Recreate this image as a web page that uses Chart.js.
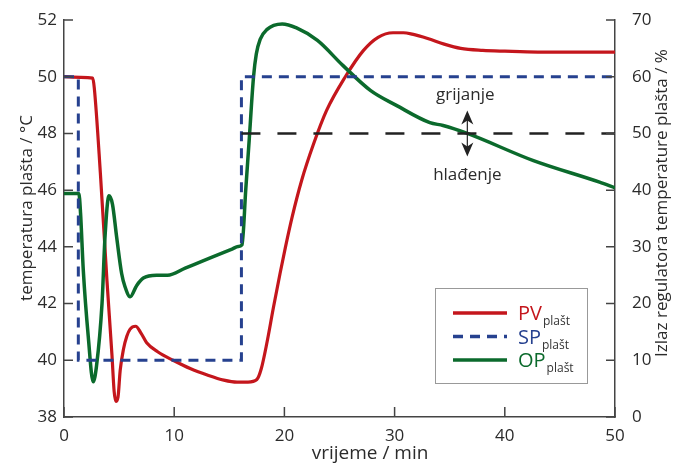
<!DOCTYPE html>
<html>
<head>
<meta charset="utf-8">
<script src="https://cdn.jsdelivr.net/npm/chart.js@4"></script>
<style>
  html, body { margin: 0; padding: 0; background: #fff; }
  #wrap { width: 680px; height: 466px; }
</style>
</head>
<body>
<div id="wrap"><canvas id="plast" width="680" height="466"></canvas></div>
<script>
// PV - temperatura plašta (°C, lijeva os)
const pvX = [0, 1.5, 2.6, 2.75, 3.3, 3.9, 4.35, 4.55, 4.7, 4.9, 5.1, 5.4, 5.7, 6.0, 6.5, 7.0, 7.5, 8.5, 9.9, 11.5, 13.0, 14.5, 15.7, 16.7, 17.5, 17.9, 18.4, 19.0, 19.6, 20.1, 20.7, 21.57, 22.62, 23.83, 25.5, 27.16, 28.5, 29.86, 30.8, 31.6, 33.0, 34.5, 36.0, 38.0, 40.0, 43.0, 46.0, 50.0];
const pvY = [50.0, 49.98, 49.95, 49.6, 46.6, 42.8, 40.2, 38.9, 38.55, 38.7, 39.65, 40.4, 40.85, 41.1, 41.2, 40.95, 40.62, 40.3, 40.0, 39.7, 39.48, 39.3, 39.23, 39.23, 39.32, 39.7, 40.59, 41.85, 43.05, 44.0, 45.05, 46.35, 47.6, 48.81, 49.98, 50.92, 51.39, 51.55, 51.55, 51.5, 51.35, 51.15, 51.0, 50.93, 50.9, 50.87, 50.87, 50.87];

// SP - zadana vrijednost (°C)
const spX = [0, 1.3, 1.3, 16.1, 16.1, 50];
const spY = [50, 50, 40, 40, 50, 50];

// OP - izlaz regulatora (%, desna os)
const opX = [0, 1.35, 1.5, 1.75, 2.2, 2.65, 2.95, 3.45, 3.72, 4.08, 4.4, 4.78, 5.23, 5.53, 6.0, 6.6, 7.2, 8.4, 9.4, 11.0, 12.5, 14.0, 15.3, 15.8, 16.15, 16.5, 16.8, 17.2, 17.45, 17.8, 18.4, 19.8, 21.1, 23.0, 25.3, 27.8, 30.2, 33.2, 34.4, 36.6, 42.6, 48.6, 50.0];
const opY = [39.4, 39.4, 36, 25.9, 14.2, 6.2, 9, 20, 31.7, 39.0, 37.5, 31.7, 25.3, 23.0, 21.2, 23.2, 24.5, 25.0, 25.0, 26.26, 27.45, 28.63, 29.66, 30.06, 30.33, 40.3, 48.7, 60, 64, 66.6, 68.3, 69.3, 68.6, 66.4, 62.0, 57.6, 54.9, 51.9, 51.4, 50.0, 45.2, 41.4, 40.4];

// granica grijanje / hlađenje (%)
const refX = [16.1, 50];
const refY = [50, 50];

const xTicks = [0, 10, 20, 30, 40, 50];
const tempTicks = [38, 40, 42, 44, 46, 48, 50, 52];
const opTicks = [0, 10, 20, 30, 40, 50, 60, 70];

const seriesNames = ['PV', 'SP', 'OP'];
const seriesSub = 'plašt';
const labelsXY = ['vrijeme / min', 'temperatura plašta / °C', 'Izlaz regulatora temperature plašta / %'];
const zoneLabels = ['grijanje', 'hlađenje'];

const RED = '#c4161c', BLUE = '#26418f', GREEN = '#0b6a2c', DARK = '#2b2b2b', AXIS = '#444';
const FONT = '"Open Sans", Lato, sans-serif';

function toPts(xs, ys) {
    return xs.map((x, i) => ({ x: x, y: ys[i] }));
}

// keep the tick padding from pushing the plot area down
function fixVert(width) {
    return s => { s.width = width; s.paddingTop = 10; s.paddingBottom = 10; };
}

const decor = {
    id: 'decor',
    afterDraw(chart) {
        const ctx = chart.ctx;
        const area = chart.chartArea;
        const sx = chart.scales.x, sy = chart.scales.y, sy2 = chart.scales.y2;
        ctx.save();

        // inward ticks
        ctx.strokeStyle = AXIS;
        ctx.lineWidth = 1.5;
        ctx.beginPath();
        xTicks.forEach(v => {
            const p = sx.getPixelForValue(v);
            ctx.moveTo(p, area.bottom); ctx.lineTo(p, area.bottom - 10);
        });
        tempTicks.forEach(v => {
            const p = sy.getPixelForValue(v);
            ctx.moveTo(area.left, p); ctx.lineTo(area.left + 9, p);
        });
        opTicks.forEach(v => {
            const p = sy2.getPixelForValue(v);
            ctx.moveTo(area.right, p); ctx.lineTo(area.right - 9, p);
        });
        ctx.stroke();

        // axis titles
        ctx.fillStyle = DARK;
        ctx.textAlign = 'center';
        ctx.textBaseline = 'middle';
        ctx.font = '19px ' + FONT;
        ctx.fillText(labelsXY[0], 370, 454);
        ctx.font = '17px ' + FONT;
        ctx.save();
        ctx.translate(27, 208);
        ctx.rotate(-Math.PI / 2);
        ctx.fillText(labelsXY[1], 0, 0);
        ctx.restore();
        ctx.save();
        ctx.translate(662, 203);
        ctx.rotate(-Math.PI / 2);
        ctx.fillText(labelsXY[2], 0, 0);
        ctx.restore();

        // grijanje / hlađenje with double arrow
        const ax = sx.getPixelForValue(36.6);
        const ay = sy2.getPixelForValue(50);
        ctx.fillText(zoneLabels[0], ax - 2, ay - 38);
        ctx.fillText(zoneLabels[1], ax, ay + 42);
        ctx.strokeStyle = '#222';
        ctx.lineWidth = 1.2;
        ctx.beginPath();
        ctx.moveTo(ax, ay - 20); ctx.lineTo(ax, ay + 20);
        ctx.stroke();
        ctx.fillStyle = '#222';
        [[-1, ay - 23], [1, ay + 23]].forEach(([d, tip]) => {
            ctx.beginPath();
            ctx.moveTo(ax, tip);
            ctx.lineTo(ax + 6, tip - d * 14);
            ctx.lineTo(ax, tip - d * 10);
            ctx.lineTo(ax - 6, tip - d * 14);
            ctx.closePath();
            ctx.fill();
        });

        // legend box
        const bx = area.right - 180, by = area.bottom - 129;
        ctx.strokeStyle = '#999';
        ctx.lineWidth = 1;
        ctx.strokeRect(bx + 0.5, by + 0.5, 152, 95);
        const cols = [RED, BLUE, GREEN];
        seriesNames.forEach((name, i) => {
            const ly = by + 25 + i * 23.5;
            ctx.strokeStyle = cols[i];
            ctx.lineWidth = 3.5;
            ctx.setLineDash(i === 1 ? [10, 7] : []);
            ctx.beginPath();
            ctx.moveTo(bx + 18, ly); ctx.lineTo(bx + 72, ly);
            ctx.stroke();
            ctx.setLineDash([]);
            ctx.fillStyle = cols[i];
            ctx.textAlign = 'left';
            ctx.textBaseline = 'alphabetic';
            ctx.font = '20px ' + FONT;
            ctx.fillText(name, bx + 83, ly + 7);
            const w = ctx.measureText(name).width;
            ctx.fillStyle = '#333';
            ctx.font = '12px ' + FONT;
            ctx.fillText(seriesSub, bx + 84 + w, ly + 12);
        });
        ctx.restore();
    }
};

const config = {
    type: 'line',
    data: {
        datasets: [
            { label: 'ref', data: toPts(refX, refY), yAxisID: 'y2', borderColor: '#222', borderWidth: 2.5, borderDash: [19, 17], pointRadius: 0, tension: 0 },
            { label: 'SP', data: toPts(spX, spY), yAxisID: 'y', borderColor: BLUE, borderWidth: 3, borderDash: [10, 7], pointRadius: 0, tension: 0 },
            { label: 'OP', data: toPts(opX, opY), yAxisID: 'y2', borderColor: GREEN, borderWidth: 3.5, pointRadius: 0, cubicInterpolationMode: 'monotone' },
            { label: 'PV', data: toPts(pvX, pvY), yAxisID: 'y', borderColor: RED, borderWidth: 3.2, pointRadius: 0, cubicInterpolationMode: 'monotone' }
        ]
    },
    options: {
        responsive: false,
        animation: false,
        layout: { padding: { top: 20, left: 0, right: 0, bottom: 0 } },
        plugins: { legend: { display: false }, tooltip: { enabled: false } },
        scales: {
            x: {
                type: 'linear', min: 0, max: 50,
                afterBuildTicks: s => { s.ticks = xTicks.map(v => ({ value: v })); },
                afterFit: s => { s.height = 49; },
                grid: { display: false, drawTicks: false },
                border: { display: true, color: AXIS, width: 1.5 },
                ticks: { color: DARK, font: { family: FONT, size: 17 }, padding: 9, maxRotation: 0 }
            },
            y: {
                type: 'linear', position: 'left', min: 38, max: 52,
                afterBuildTicks: s => { s.ticks = tempTicks.map(v => ({ value: v })); },
                afterFit: fixVert(64),
                grid: { display: false, drawTicks: false },
                border: { display: true, color: AXIS, width: 1.5 },
                ticks: { color: DARK, font: { family: FONT, size: 17 }, padding: 7 }
            },
            y2: {
                type: 'linear', position: 'right', min: 0, max: 70,
                afterBuildTicks: s => { s.ticks = opTicks.map(v => ({ value: v })); },
                afterFit: fixVert(65),
                grid: { display: false, drawTicks: false },
                border: { display: true, color: AXIS, width: 1.5 },
                ticks: { color: DARK, font: { family: FONT, size: 17 }, padding: 17 }
            }
        }
    },
    plugins: [decor]
};

const ctxPlast = document.getElementById('plast');
const chartPlast = new Chart(ctxPlast, config);
</script>
</body>
</html>
